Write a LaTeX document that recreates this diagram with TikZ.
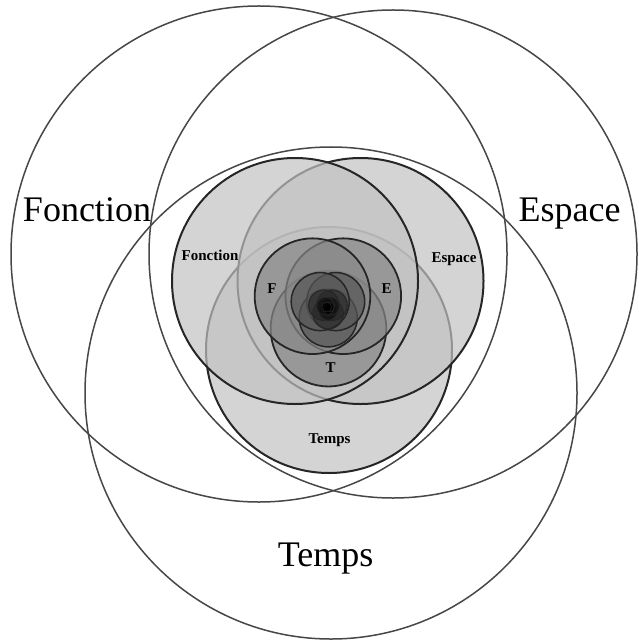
\documentclass[tikz,border=0pt]{standalone}
\usepackage{fontspec}
\setmainfont{Liberation Serif}
\usetikzlibrary{positioning}
\definecolor{ringgrey}{HTML}{474747}
\definecolor{rimdark}{HTML}{262626}
\tikzset{
  ring/.style={draw=ringgrey, line width=1.5pt},
  disc/.style={fill=black!#1, fill opacity=0.7, draw=rimdark},
  biglbl/.style={font=\fontsize{36}{40}\selectfont, anchor=base, inner sep=0pt},
  midlbl/.style={font=\fontsize{15}{17}\selectfont\bfseries, anchor=base, inner sep=0pt},
}

\begin{document}
\begin{tikzpicture}[x=1pt, y=-1pt]
  \useasboundingbox[fill=white] (0,0) rectangle (638,644);

  % outer circles
  \draw[ring] (259,254) circle (248);
  \draw[ring] (393,254) circle (244);
  \draw[ring] (331,393) circle (246);

  % nested levels: scale/centre x/centre y/grey/line width
  \foreach \s/\cx/\cy/\g/\lw in {0.5/328/304/24/2, 0.235/328/307/47/1.8,
      0.118/328/307/66/1.5, 0.062/328/308/84/1.1, 0.036/328/308/94/0.8,
      0.02/328/308/100/0.5} {
    \draw[disc=\g, line width=\lw pt] (\cx+2*\s,\cy+92*\s) circle ({246*\s});
    \draw[disc=\g, line width=\lw pt] (\cx+65*\s,\cy-46*\s) circle ({246*\s});
    \draw[disc=\g, line width=\lw pt] (\cx-66*\s,\cy-46*\s) circle ({246*\s});
  }

  \node[biglbl] (fbig) at (87,222) {Fonction};
  \node[biglbl] (ebig) at (569.5,221) {Espace};
  \node[biglbl] (tbig) at (325.5,566) {Temps};

  \node[midlbl] (fmid) at (210,260) {Fonction};
  \node[midlbl] (emid) at (454,262) {Espace};
  \node[midlbl] (tmid) at (329.5,443) {Temps};

  \node[midlbl] (fsml) at (272,293) {F};
  \node[midlbl] (esml) at (386.5,293) {E};
  \node[midlbl] (tsml) at (330.5,372.5) {T};
\end{tikzpicture}
\end{document}
